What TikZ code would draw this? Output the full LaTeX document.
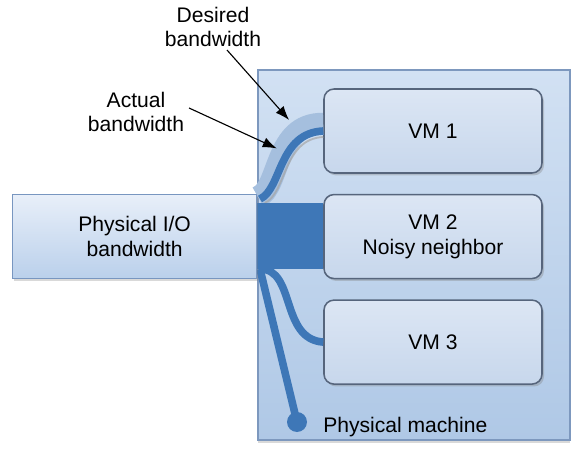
\documentclass[tikz,border=0pt]{standalone}
\usepackage{fontspec}
\setmainfont{Liberation Sans}
\usetikzlibrary{arrows.meta, positioning, shadows}

\definecolor{machinetop}{HTML}{D2E1F3}
\definecolor{machinebot}{HTML}{AFC8E6}
\definecolor{machineedge}{HTML}{7D98BE}
\definecolor{vmtop}{HTML}{DCE6F4}
\definecolor{vmbot}{HTML}{C7D7EC}
\definecolor{vmedge}{HTML}{56657C}
\definecolor{iotop}{HTML}{E8EFF9}
\definecolor{iobot}{HTML}{BAD0EB}
\definecolor{ioedge}{HTML}{7896C0}
\definecolor{linkblue}{HTML}{3E77B7}
\definecolor{bandblue}{HTML}{A5BFDE}

\begin{document}
\begin{tikzpicture}[
    >={Latex[length=3.5mm, width=2.6mm]},
    font=\fontsize{15}{17.5}\selectfont,
    machine/.style={
        draw=machineedge,
        line width=0.8pt,
        top color=machinetop,
        bottom color=machinebot,
        minimum width=7.8cm,
        minimum height=9.25cm,
        drop shadow={opacity=0.3, shadow xshift=0pt, shadow yshift=-0.08cm}
    },
    vmbox/.style={
        draw=vmedge,
        line width=1.1pt,
        rounded corners=0.25cm,
        top color=vmtop,
        bottom color=vmbot,
        minimum width=5.45cm,
        minimum height=2.1cm,
        align=center,
        drop shadow={opacity=0.35, shadow xshift=0.05cm, shadow yshift=-0.06cm}
    },
    iobox/.style={
        draw=ioedge,
        line width=0.8pt,
        top color=iotop,
        bottom color=iobot,
        minimum width=6.1cm,
        minimum height=2.1cm,
        align=center,
        drop shadow={opacity=0.3, shadow xshift=0.03cm, shadow yshift=-0.06cm}
    },
    link/.style={line width=0.19cm, color=linkblue},
    label/.style={align=center},
    arrow/.style={->, line width=0.8pt, shorten >=1pt}
]
\useasboundingbox (0,0) rectangle (14.275,11.275);

\node[machine] (host) at (10.35,4.9) {};

\node[vmbox] (vm1) at (10.825,8.0) {VM 1};
\node[vmbox, below=0.5cm of vm1] (vm2) {VM 2\\Noisy neighbor};
\node[vmbox, below=0.5cm of vm2] (vm3) {VM 3};

% connections inside the host
\coordinate (bandstart) at (6.45,6.35);
\coordinate (linkstart) at (6.5,6.3);
\coordinate (tapstart) at (6.5,4.55);
\draw[line width=0.55cm, bandblue] (bandstart) .. controls (7.0,6.55) and (6.85,8.2) .. ([yshift=0.18cm]vm1.west);
\draw[line width=1.3pt, gray!70, opacity=0.7] (6.62,6.2) .. controls (7.17,6.45) and (7.07,7.8) .. ([yshift=-0.15cm]vm1.west);
\draw[link] (linkstart) .. controls (7.05,6.55) and (6.95,7.95) .. (vm1.west);
\fill[linkblue] ([yshift=0.85cm]vm2.west) rectangle (6.3,4.55);
\draw[link] (tapstart) .. controls (7.4,4.55) and (7.0,2.8) .. (vm3.west);

\node[circle, fill=linkblue, minimum size=0.5cm, inner sep=0pt] (tap) at (7.425,0.725) {};
\draw[link] (tapstart) -- (tap.center);
\node[anchor=west, inner sep=0pt] (hostlabel) at (8.075,0.6) {Physical machine};

\node[iobox, left=1.65cm of vm2] (io) {Physical I/O\\bandwidth};

% bandwidth labels
\node[label] (desired) at (5.325,10.6) {Desired\\bandwidth};
\node[label] (actual) at (3.4,8.475) {Actual\\bandwidth};
\coordinate (desiredtip) at (7.25,8.25);
\coordinate (actualtip) at (6.95,7.55);
\draw[arrow] ([xshift=0.35cm, yshift=0.05cm]desired.south) -- (desiredtip);
\draw[arrow] ([yshift=0.1cm]actual.east) -- (actualtip);

\end{tikzpicture}
\end{document}
